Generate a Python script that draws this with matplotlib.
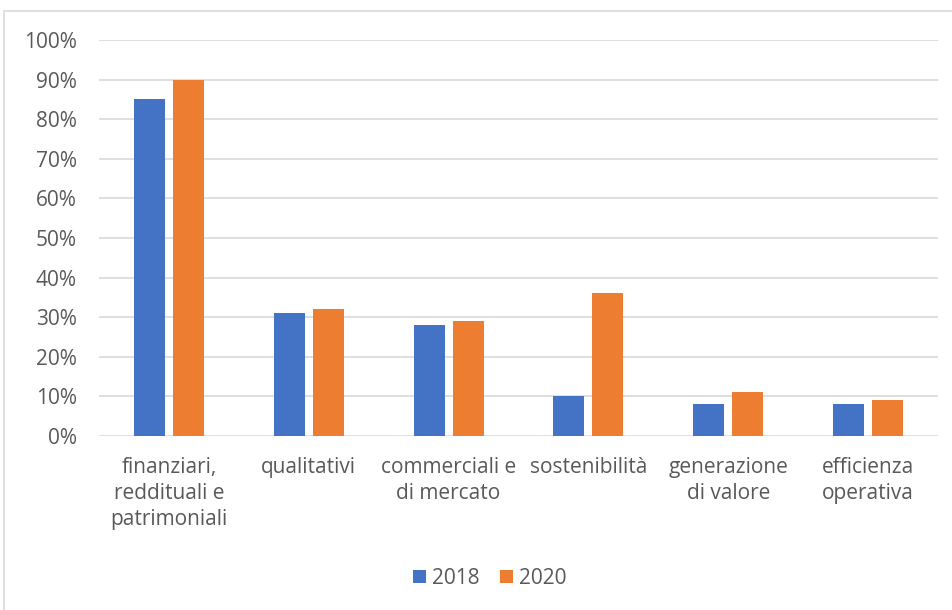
import matplotlib
matplotlib.use("Agg")
import matplotlib.pyplot as plt
from matplotlib.patches import Rectangle
from matplotlib.ticker import FuncFormatter, MultipleLocator
import numpy as np

plt.rcParams['font.family'] = ['Open Sans', 'DejaVu Sans']

categories = ["finanziari,\nreddituali e\npatrimoniali", "qualitativi",
              "commerciali e\ndi mercato", "sostenibilità",
              "generazione\ndi valore", "efficienza\noperativa"]
series_2018 = [0.85, 0.31, 0.28, 0.10, 0.08, 0.08]
series_2020 = [0.90, 0.32, 0.29, 0.36, 0.11, 0.09]
series_names = ["2018", "2020"]
colors = ["#4472C4", "#ED7D31"]
text_color = "#595959"
grid_color = "#D9D9D9"

W, H = 952, 610
fig = plt.figure(figsize=(W / 100, H / 100), dpi=100)

# chart frame (runs off the right and bottom edges)
fig.patches.append(Rectangle((4 / W, -0.05), 1.1, 1 - 11 / H + 0.05,
                             transform=fig.transFigure, fill=False,
                             edgecolor=grid_color, linewidth=1.2))

ax = fig.add_axes([99 / W, 1 - 436 / H, (938 - 99) / W, (436 - 40) / H])

x = np.arange(len(categories))
bw = 0.222
gap = 0.057
ax.bar(x - (bw + gap) / 2, series_2018, bw, color=colors[0], label=series_names[0], zorder=3)
ax.bar(x + (bw + gap) / 2, series_2020, bw, color=colors[1], label=series_names[1], zorder=3)

ax.set_xlim(-0.5, len(categories) - 0.5)
ax.set_ylim(0, 1.0)
ax.yaxis.set_major_locator(MultipleLocator(0.1))
ax.yaxis.set_major_formatter(FuncFormatter(lambda v, p: f"{v*100:.0f}%"))
ax.grid(axis='y', color=grid_color, linewidth=1.2, zorder=0)
for s in ax.spines.values():
    s.set_visible(False)
ax.tick_params(axis='both', length=0, colors=text_color, labelsize=15)
ax.tick_params(axis='y', pad=16)
ax.tick_params(axis='x', pad=15)
ax.set_xticks(x)
ax.set_xticklabels(categories, linespacing=1.33, va='top')

fig.legend(loc='center', bbox_to_anchor=(490 / W, 1 - 578 / H), ncol=2,
           frameon=False, fontsize=15, labelcolor=text_color,
           handlelength=0.6, handleheight=0.6, handletextpad=0.3,
           columnspacing=1.0)

fig.savefig("out.png", dpi=100)
